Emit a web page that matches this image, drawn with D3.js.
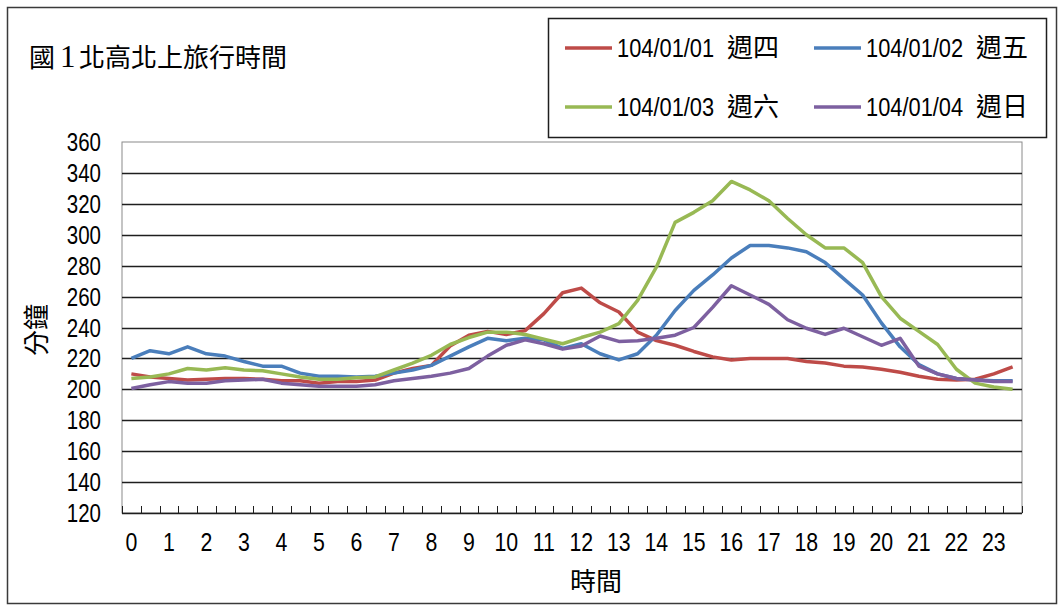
<!DOCTYPE html>
<html>
<head>
<meta charset="utf-8">
<script src="https://cdn.jsdelivr.net/npm/d3@7"></script>
<style>
  html, body { margin: 0; padding: 0; background: #fff; }
  svg { display: block; }
  text { font-family: "Liberation Sans", Arial, sans-serif; fill: #000; }
  .cjk { font-family: "Noto Sans CJK TC", sans-serif; }
  .serif { font-family: "Liberation Serif", serif; }
</style>
</head>
<body>
<svg id="chart" width="1063" height="610"></svg>
<script>
// Half-hour time slots along the x axis
const slots = [
  "00:00","00:30","01:00","01:30","02:00","02:30","03:00","03:30",
  "04:00","04:30","05:00","05:30","06:00","06:30","07:00","07:30",
  "08:00","08:30","09:00","09:30","10:00","10:30","11:00","11:30",
  "12:00","12:30","13:00","13:30","14:00","14:30","15:00","15:30",
  "16:00","16:30","17:00","17:30","18:00","18:30","19:00","19:30",
  "20:00","20:30","21:00","21:30","22:00","22:30","23:00","23:30"
];
const hourLabels = ["0","1","2","3","4","5","6","7","8","9","10","11",
                    "12","13","14","15","16","17","18","19","20","21","22","23"];
const yTicks = [120,140,160,180,200,220,240,260,280,300,320,340,360];

const seriesNames = ["104/01/01", "104/01/02", "104/01/03", "104/01/04"];
const seriesDays  = ["週四", "週五", "週六", "週日"];
const seriesColors = ["#BE4B48", "#4A7EBB", "#98B954", "#7D60A0"];

// Travel time (minutes), one value per half-hour slot
const thu = [210,208,207,206,206.5,207,207,206.5,205.5,205.5,204,205,
             205,206,210.5,213.5,215.5,228,235,237.5,235.5,238,249,262.5,
             265.5,256,250,237,231.5,228.5,224.5,221,219,220,220,220,
             218,217,215,214.5,213,211,208.5,206.5,206,206.5,210,214.5];
const fri = [220,225,223,227.5,223,221.5,218,215,215,210.5,208.5,208.5,
             208,208.5,210.5,212.5,215.5,221.5,227.5,233,231.5,233,232,226.5,
             229.5,223,219,223,235,251,264,274,285,293,293,291.5,
             289,282,271.5,261,243,227.5,216,210,207,206,205.5,205.5];
const sat = [207,208,210,213.5,212.5,214,212.5,212,210,208,206.5,206.5,
             207.5,208,212.5,217,222,229,233.5,237,237,235.5,232.5,229.5,
             233.5,237,242.5,257.5,279,308,314.5,322,334.5,329,322,310.5,
             300,291.5,291.5,282,260,246,237.5,229,213,204,201.5,200];
const sun = [200.5,203,205,204,204,205.5,206,206.5,204,203,202,202,
             202,203,205.5,207,208.5,210.5,213.5,221.5,228.5,232,229.5,226,
             228,234.5,231,231.5,233,235,240,253,267,261,255,245,
             239.5,235.5,239.5,234,228.5,233,215,210,207,206,205,205];
const seriesValues = [thu, fri, sat, sun];

const svg = d3.select("#chart");

// Plot area
const plotL = 122, plotR = 1022, plotT = 142, plotB = 513;
// Horizontal squeeze applied to the narrow numeric labels
const squeeze = 0.82;

const x = d3.scaleBand().domain(slots).range([plotL, plotR]).padding(0);
const y = d3.scaleLinear().domain([120, 360]).range([plotB, plotT]);
const bw = x.bandwidth();

// Outer chart frame
svg.append("rect")
  .attr("x", 7.5).attr("y", 7.5).attr("width", 1049).attr("height", 596)
  .attr("fill", "none").attr("stroke", "#3a3a3a").attr("stroke-width", 1.5);

// Title
const title = svg.append("text").attr("y", 67).attr("font-size", 26);
title.append("tspan").attr("class", "cjk").attr("x", 29).text("國");
title.append("tspan").attr("class", "serif").attr("x", 60).attr("font-size", 31).text("1");
title.append("tspan").attr("class", "cjk").attr("x", 79).text("北高北上旅行時間");

// Plot border
svg.append("rect")
  .attr("x", plotL).attr("y", plotT).attr("width", plotR - plotL).attr("height", plotB - plotT)
  .attr("fill", "none").attr("stroke", "#8a8a8a").attr("stroke-width", 1);

// Horizontal gridlines
svg.append("g").selectAll("line")
  .data(yTicks.filter(v => v > 120 && v < 360))
  .join("line")
  .attr("x1", plotL).attr("x2", plotR)
  .attr("y1", d => Math.round(y(d)) + 0.5).attr("y2", d => Math.round(y(d)) + 0.5)
  .attr("stroke", "#1e1e1e").attr("stroke-width", 1.4);

// Y tick labels
svg.append("g").selectAll("text")
  .data(yTicks)
  .join("text")
  .attr("transform", d => `translate(101,${y(d)}) scale(${squeeze},1)`)
  .attr("dy", "0.36em")
  .attr("text-anchor", "end")
  .attr("font-size", 25)
  .text(d => d);

// Y axis title
svg.append("text")
  .attr("class", "cjk")
  .attr("transform", "translate(37,330) rotate(-90)")
  .attr("text-anchor", "middle")
  .attr("dy", "0.35em")
  .attr("font-size", 26)
  .text("分鐘");

// X axis line and tick marks at slot boundaries
svg.append("line")
  .attr("x1", plotL).attr("x2", plotR)
  .attr("y1", plotB + 0.5).attr("y2", plotB + 0.5)
  .attr("stroke", "#1e1e1e").attr("stroke-width", 1.5);

const boundaries = slots.map(s => x(s)).concat([plotR]);
svg.append("g").selectAll("line")
  .data(boundaries)
  .join("line")
  .attr("x1", d => Math.round(d) + 0.5).attr("x2", d => Math.round(d) + 0.5)
  .attr("y1", plotB).attr("y2", plotB - 7)
  .attr("stroke", "#1e1e1e").attr("stroke-width", 1);

// X tick labels: one per hour, centred on the full-hour slot
svg.append("g").selectAll("text")
  .data(hourLabels)
  .join("text")
  .attr("transform", (d, i) => `translate(${x(slots[i * 2]) + bw / 2},551) scale(${squeeze},1)`)
  .attr("text-anchor", "middle")
  .attr("font-size", 26)
  .text(d => d);

// X axis title
svg.append("text")
  .attr("class", "cjk")
  .attr("x", 596).attr("y", 591)
  .attr("text-anchor", "middle")
  .attr("font-size", 26)
  .text("時間");

// Series lines
const line = d3.line()
  .x((d, i) => x(slots[i]) + bw / 2)
  .y(d => y(d));

svg.append("g").selectAll("path")
  .data(seriesValues)
  .join("path")
  .attr("d", d => line(d))
  .attr("fill", "none")
  .attr("stroke", (d, i) => seriesColors[i])
  .attr("stroke-width", 3.5)
  .attr("stroke-linejoin", "round")
  .attr("stroke-linecap", "butt");

// Legend
svg.append("rect")
  .attr("x", 548.5).attr("y", 18.5).attr("width", 498).attr("height", 119)
  .attr("fill", "#fff").attr("stroke", "#1e1e1e").attr("stroke-width", 1.5);

const legendPos = [
  { lx: 565, ly: 48 }, { lx: 814, ly: 48 },
  { lx: 565, ly: 107 }, { lx: 814, ly: 107 }
];
const lg = svg.append("g").selectAll("g")
  .data(seriesNames)
  .join("g")
  .attr("transform", (d, i) => `translate(${legendPos[i].lx},${legendPos[i].ly})`);

lg.append("line")
  .attr("x1", 0).attr("x2", 47).attr("y1", 0).attr("y2", 0)
  .attr("stroke", (d, i) => seriesColors[i]).attr("stroke-width", 3.5);

lg.append("text")
  .attr("transform", `translate(52,0) scale(0.84,1)`)
  .attr("dy", "0.36em")
  .attr("font-size", 26)
  .text(d => d);

lg.append("text")
  .attr("class", "cjk")
  .attr("x", 162)
  .attr("dy", "0.36em")
  .attr("font-size", 26)
  .text((d, i) => seriesDays[i]);
</script>
</body>
</html>
